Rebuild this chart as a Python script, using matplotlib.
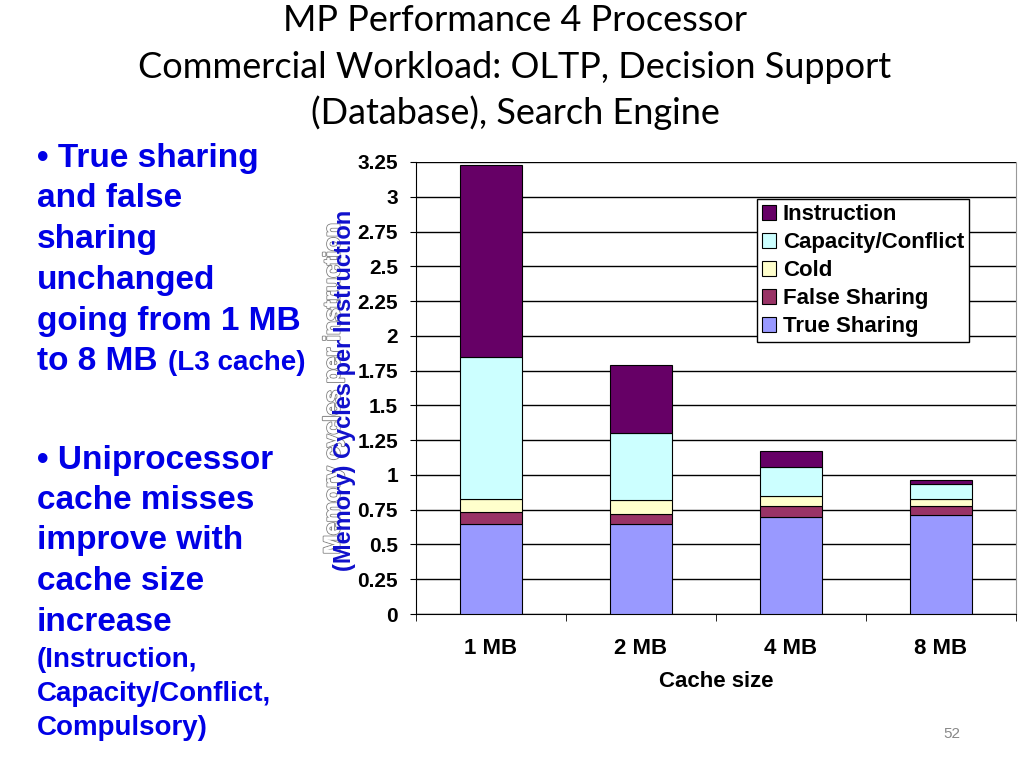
import numpy as np
import matplotlib.pyplot as plt
import matplotlib.patheffects as pe

# cache sizes and stacked miss components (memory cycles per instruction)
sizes = ['1 MB', '2 MB', '4 MB', '8 MB']
true_sharing = [0.65, 0.65, 0.70, 0.71]
false_sharing = [0.08, 0.07, 0.075, 0.07]
cold = [0.10, 0.10, 0.07, 0.045]
capacity = [1.02, 0.48, 0.21, 0.11]
instruction = [1.38, 0.49, 0.12, 0.025]

series = [('True Sharing', true_sharing, '#9999FF'),
          ('False Sharing', false_sharing, '#993366'),
          ('Cold', cold, '#FFFFCC'),
          ('Capacity/Conflict', capacity, '#CCFFFF'),
          ('Instruction', instruction, '#660066')]

W, H = 1024, 768
fig = plt.figure(figsize=(W / 100, H / 100), dpi=100, facecolor='white')

def px(x, y):
    return x / W, 1 - y / H

ax = fig.add_axes([416 / W, 1 - 614 / H, 600 / W, 452 / H])
x = np.arange(len(sizes))
bottom = np.zeros(len(sizes))
handles = []
for name, vals, col in series:
    b = ax.bar(x, vals, 0.41, bottom=bottom, color=col, edgecolor='black',
               linewidth=0.8, label=name, zorder=3)
    handles.append(b)
    bottom += np.array(vals)

ax.set_xlim(-0.5, 3.5)
ax.set_ylim(0, 3.25)
ax.set_yticks(np.arange(0, 3.26, 0.25))
ax.set_yticklabels(['0', '0.25', '0.5', '0.75', '1', '1.25', '1.5', '1.75',
                    '2', '2.25', '2.5', '2.75', '3', '3.25'])
ax.yaxis.grid(True, color='black', linewidth=1, zorder=0)
ax.set_axisbelow(True)
ax.set_xticks(x)
ax.set_xticklabels(sizes)
ax.set_xticks(np.arange(-0.5, 3.6, 1), minor=True)
ax.tick_params(axis='x', which='major', length=0, pad=17)
ax.tick_params(axis='x', which='minor', length=5, direction='out', color='black')
ax.tick_params(axis='y', length=4, direction='out', pad=9)
for lab in ax.get_yticklabels():
    lab.set_fontfamily('Liberation Sans')
    lab.set_fontweight('bold')
    lab.set_fontsize(15)
for lab in ax.get_xticklabels():
    lab.set_fontfamily('Liberation Sans')
    lab.set_fontweight('bold')
    lab.set_fontsize(16)
ax.set_xlabel('Cache size', family='Liberation Sans', weight='bold',
              fontsize=16, labelpad=9)
ax.spines['top'].set_visible(False)
ax.spines['right'].set_color('#999999')
ax.spines['left'].set_color('black')
ax.spines['bottom'].set_color('black')

leg = ax.legend(handles[::-1], [s[0] for s in series][::-1], loc='upper left',
                bbox_to_anchor=(0.568, 0.918), borderaxespad=0, fancybox=False,
                framealpha=1, edgecolor='black', handlelength=0.65,
                handleheight=0.65, handletextpad=0.3, labelspacing=0.32,
                borderpad=0.22, prop={'family': 'Liberation Sans',
                                      'weight': 'bold', 'size': 16})
leg.get_frame().set_linewidth(1)
leg.set_zorder(5)

# overlapping y-axis labels
fig.text(*px(333, 389), 'Memory cycles per instruction', rotation=90,
         ha='center', va='center', family='Liberation Sans', weight='bold',
         fontsize=16.5, color='white',
         path_effects=[pe.withStroke(linewidth=1.5, foreground='#888888'),
                       pe.Normal()])
fig.text(*px(344, 390), '(Memory) Cycles per Instruction', rotation=90,
         ha='center', va='center', family='Liberation Sans', weight='bold',
         fontsize=17, color='#1010CC')

# title
title_lines = ['MP Performance 4 Processor',
               'Commercial Workload: OLTP, Decision Support',
               '(Database), Search Engine']
for yb, t in zip([31, 78, 124], title_lines):
    fig.text(*px(515, yb), t, ha='center', va='baseline', family='Lato',
             fontsize=26, color='black')

# bullet text on the left
blue = '#0000E6'
big = [('\u2022 True sharing', 167), ('and false', 207), ('sharing', 248),
       ('unchanged', 289), ('going from 1 MB', 330), ('to 8 MB', 370),
       ('\u2022 Uniprocessor', 469), ('cache misses', 509),
       ('improve with', 549), ('cache size', 590), ('increase', 631)]
for t, yb in big:
    fig.text(*px(37, yb), t, ha='left', va='baseline', family='Liberation Sans',
             weight='bold', fontsize=24, color=blue)
fig.text(*px(168, 370), '(L3 cache)', ha='left', va='baseline',
         family='Liberation Sans', weight='bold', fontsize=20, color=blue)
small = [('(Instruction,', 667), ('Capacity/Conflict,', 701), ('Compulsory)', 735)]
for t, yb in small:
    fig.text(*px(37, yb), t, ha='left', va='baseline', family='Liberation Sans',
             weight='bold', fontsize=20, color=blue)

fig.text(*px(952, 738), '52', ha='center', va='baseline', family='Liberation Sans',
         fontsize=11, color='#888888')

fig.savefig('out.png', dpi=100, facecolor='white')
